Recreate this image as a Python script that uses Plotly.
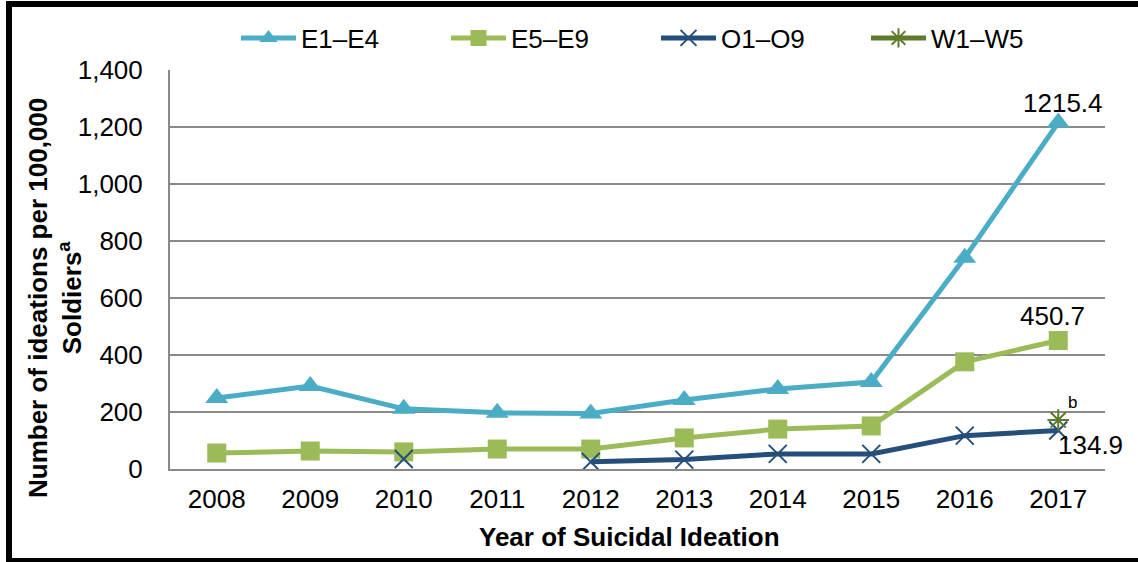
import plotly.graph_objects as go

years = ["2008", "2009", "2010", "2011", "2012", "2013", "2014", "2015", "2016", "2017"]
e1_e4 = [249, 291, 211, 197, 195, 242, 281, 305, 741, 1215.4]
e5_e9 = [56, 63, 60, 70, 70, 109, 140, 151, 376, 450.7]
o1_o9 = [None, None, 35, None, 25, 33, 53, 53, 117, 134.9]
w1_w5 = [None, None, None, None, None, None, None, None, None, 172]
y_ticks = [0, 200, 400, 600, 800, 1000, 1200, 1400]

FONT = "Liberation Sans, Arial, sans-serif"
W, H = 1138, 562
L, R, T, B = 170, 33, 70, 93
PW, PH = W - L - R, H - T - B


def px_x(p):
    return (p - L) / PW


def px_y(p):
    return (H - B - p) / PH


fig = go.Figure()
fig.add_trace(go.Scatter(x=years, y=e1_e4, name="E1–E4", mode="lines+markers",
                         line=dict(color="#4BACC6", width=5),
                         marker=dict(symbol="triangle-up", size=20, color="#4BACC6")))
fig.add_trace(go.Scatter(x=years, y=e5_e9, name="E5–E9", mode="lines+markers",
                         line=dict(color="#9BBB59", width=5),
                         marker=dict(symbol="square", size=19, color="#9BBB59")))
fig.add_trace(go.Scatter(x=years, y=o1_o9, name="O1–O9", mode="lines+markers",
                         connectgaps=False,
                         line=dict(color="#254E7A", width=5),
                         marker=dict(symbol="x-thin", size=18, color="#254E7A",
                                     line=dict(color="#254E7A", width=2))))
fig.add_trace(go.Scatter(x=years, y=w1_w5, name="W1–W5", mode="lines+markers",
                         line=dict(color="#5E7A2E", width=5),
                         marker=dict(symbol="asterisk-open", size=18, color="#5E7A2E",
                                     line=dict(color="#5E7A2E", width=2))))

last = len(years) - 1
fig.add_annotation(x=last, y=e1_e4[last], text="1215.4", showarrow=False,
                   xanchor="center", yanchor="bottom", yshift=3, xshift=5,
                   font=dict(size=26, color="black", family=FONT))
fig.add_annotation(x=last, y=e5_e9[last], text="450.7", showarrow=False,
                   xanchor="center", yanchor="bottom", yshift=8, xshift=-6,
                   font=dict(size=26, color="black", family=FONT))
fig.add_annotation(x=last, y=o1_o9[last], text="134.9", showarrow=False,
                   xanchor="left", yanchor="top", yshift=3, xshift=-2,
                   font=dict(size=26, color="black", family=FONT))
fig.add_annotation(x=last, y=w1_w5[last], text="b", showarrow=False,
                   xanchor="left", yanchor="bottom", yshift=6, xshift=8,
                   font=dict(size=17, color="black", family=FONT))

# axis titles
fig.add_annotation(xref="paper", yref="paper", x=px_x(55), y=px_y(298),
                   text="<b>Number of ideations per 100,000<br>Soldiers<sup>a</sup></b>",
                   textangle=-90, showarrow=False, xanchor="center", yanchor="middle",
                   font=dict(size=26, color="black", family=FONT))
fig.add_annotation(xref="paper", yref="paper", x=px_x(629), y=px_y(537),
                   text="<b>Year of Suicidal Ideation</b>",
                   showarrow=False, xanchor="center", yanchor="middle",
                   font=dict(size=26, color="black", family=FONT))

# outer black frame: left, top and bottom edges only
frame = dict(color="black", width=6)
fig.add_shape(type="line", xref="paper", yref="paper",
              x0=px_x(9), x1=px_x(9), y0=px_y(564), y1=px_y(1), line=frame, layer="above")
fig.add_shape(type="line", xref="paper", yref="paper",
              x0=px_x(6), x1=px_x(1145), y0=px_y(4), y1=px_y(4), line=frame, layer="above")
fig.add_shape(type="line", xref="paper", yref="paper",
              x0=px_x(6), x1=px_x(1145), y0=px_y(561), y1=px_y(561), line=frame, layer="above")

fig.update_layout(
    width=W, height=H,
    margin=dict(l=L, r=R, t=T, b=B, autoexpand=False),
    paper_bgcolor="white", plot_bgcolor="white",
    font=dict(family=FONT, size=26, color="black"),
    showlegend=True,
    legend=dict(orientation="h", x=px_x(236), xanchor="left", y=px_y(38), yanchor="middle",
                font=dict(size=26, family=FONT), itemwidth=55,
                entrywidth=140, bgcolor="rgba(0,0,0,0)"),
    xaxis=dict(type="category", range=[-0.5, 9.5], showgrid=False,
               showline=True, linecolor="#898989", linewidth=2,
               ticks="", tickfont=dict(size=26), ticklabelstandoff=6),
    yaxis=dict(range=[0, 1400], tickvals=y_ticks, ticktext=[f"{v:,}" for v in y_ticks],
               showgrid=True, gridcolor="#898989", gridwidth=2,
               showline=True, linecolor="#898989", linewidth=2, zeroline=False,
               ticks="", tickfont=dict(size=26), ticklabelstandoff=20),
)

post = (
    "document.documentElement.style.overflow='hidden';"
    "document.documentElement.style.background='white';"
    "document.body.style.margin='0';"
    "document.body.style.overflow='hidden';"
    "var gd=document.getElementById('{plot_id}');"
    "gd.style.position='fixed';gd.style.left='0px';gd.style.top='0px';"
)
fig.write_html("out.html", config={"displayModeBar": False}, post_script=post)
